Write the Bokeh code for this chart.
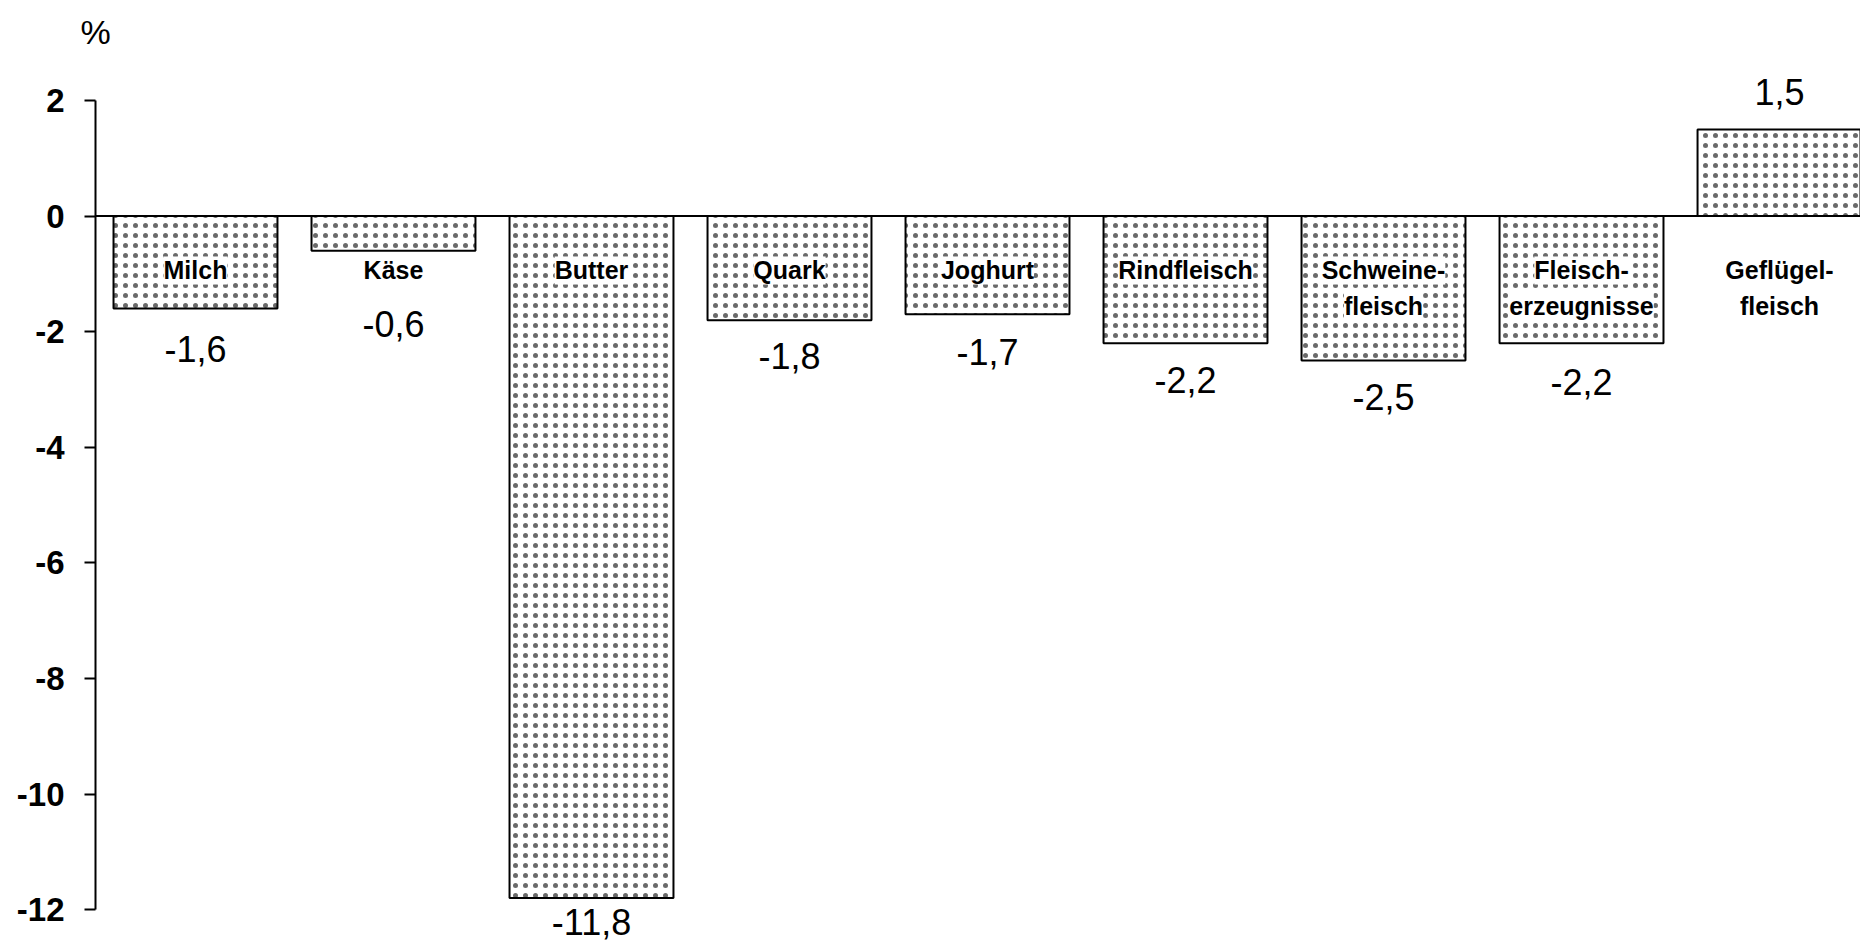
from bokeh.plotting import figure
from bokeh.models import Range1d, ColumnDataSource, LabelSet, Span, FixedTicker
from bokeh.core.properties import value
from bokeh.embed import file_html
from bokeh.resources import INLINE

categories = ["Milch", "Käse", "Butter", "Quark", "Joghurt", "Rindfleisch",
              "Schweine-\nfleisch", "Fleisch-\nerzeugnisse", "Geflügel-\nfleisch"]
values = [-1.6, -0.6, -11.8, -1.8, -1.7, -2.2, -2.5, -2.2, 1.5]
value_labels = ["-1,6", "-0,6", "-11,8", "-1,8", "-1,7", "-2,2", "-2,5", "-2,2", "1,5"]
y_ticks = [2, 0, -2, -4, -6, -8, -10, -12]
y_tick_labels = ["2", "0", "-2", "-4", "-6", "-8", "-10", "-12"]
unit_label = "%"

# label placement (pixels away from bar end) - style only
label_dy = [40, 73, 24, 36, 38, 37, 36, 39, 37]

FONT = "Liberation Sans"
xs = list(range(len(categories)))

p = figure(width=1860, height=943, output_backend="svg", toolbar_location=None,
           x_range=Range1d(-0.505, 8.409), y_range=Range1d(-12.587, 2.762),
           x_axis_location=None, min_border_left=95, min_border_right=0,
           min_border_top=56, min_border_bottom=0, title=unit_label)
p.outline_line_color = None
p.grid.visible = False
p.background_fill_color = "white"
p.border_fill_color = "white"

p.title.align = "left"
p.title.offset = -15
p.title.standoff = 12
p.title.text_font = FONT
p.title.text_font_style = "normal"
p.title.text_font_size = "34px"
p.title.text_color = "black"

src = ColumnDataSource(dict(x=xs, top=values, lab=value_labels,
                            dy=[(d if v < 0 else -d) for d, v in zip(label_dy, values)]))

p.vbar(x="x", top="top", bottom=0, width=0.828, source=src,
       fill_color="white", line_color="black", line_width=2,
       hatch_pattern="dot", hatch_color="#6a6a6a", hatch_scale=10, hatch_weight=1)

p.add_layout(Span(location=0, dimension="width", line_color="black", line_width=2))

ax = p.yaxis[0]
ax.ticker = FixedTicker(ticks=y_ticks)
ax.major_label_overrides = {t: s for t, s in zip(y_ticks, y_tick_labels)}
ax.bounds = (-12, 2)
ax.axis_line_color = "black"
ax.axis_line_width = 2
ax.major_tick_line_color = "black"
ax.major_tick_line_width = 2
ax.major_tick_out = 11
ax.major_tick_in = 0
ax.minor_tick_line_color = None
ax.major_label_standoff = 20
ax.major_label_text_font = FONT
ax.major_label_text_font_style = "bold"
ax.major_label_text_font_size = "33px"
ax.major_label_text_color = "black"

p.text(x="x", y="top", text="lab", source=src, y_offset="dy",
       text_align="center", text_baseline="middle",
       text_font=value(FONT), text_font_size="36px", text_color="black")

# category names inside the bars, one LabelSet per text line
lines = [c.split("\n") for c in categories]
line1 = dict(x=xs, y=[-0.941] * len(xs), t=[l[0] for l in lines])
x2 = [x for x, l in zip(xs, lines) if len(l) > 1]
line2 = dict(x=x2, y=[-1.564] * len(x2), t=[l[1] for l in lines if len(l) > 1])
for d in (line1, line2):
    p.add_layout(LabelSet(x="x", y="y", text="t", source=ColumnDataSource(d),
                          text_align="center", text_baseline="middle",
                          text_font=value(FONT), text_font_style="bold",
                          text_font_size="25px", text_color="black",
                          background_fill_color="white"))

open("out.html", "w").write(file_html(p, INLINE))
